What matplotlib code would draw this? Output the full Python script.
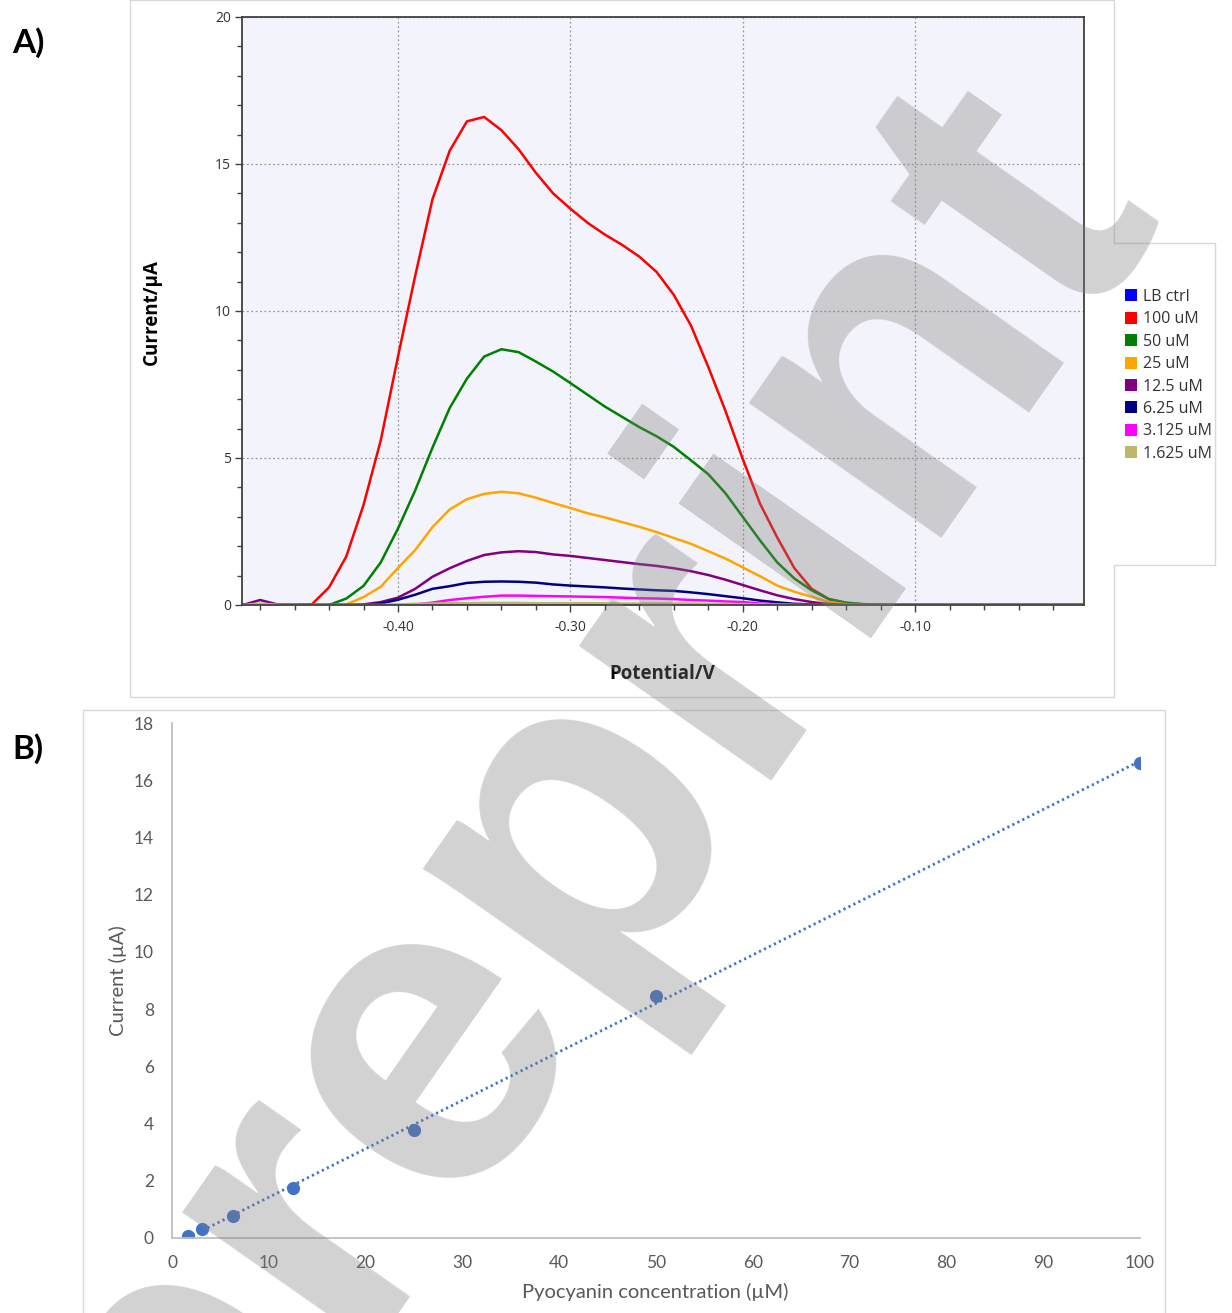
import numpy as np
import matplotlib
matplotlib.use('Agg')
import matplotlib.pyplot as plt
from matplotlib.lines import Line2D
from matplotlib.ticker import MultipleLocator, FormatStrFormatter

W, H = 1232, 1313

# ---- panel A: voltammograms ----
potential = [-0.49, -0.48, -0.47, -0.46, -0.45, -0.44, -0.43, -0.42, -0.41, -0.40,
             -0.39, -0.38, -0.37, -0.36, -0.35, -0.34, -0.33, -0.32, -0.31, -0.30,
             -0.29, -0.28, -0.27, -0.26, -0.25, -0.24, -0.23, -0.22, -0.21, -0.20,
             -0.19, -0.18, -0.17, -0.16, -0.15, -0.14, -0.13, -0.12, -0.11, -0.10,
             -0.09, -0.08, -0.07, -0.06, -0.05, -0.04, -0.03, -0.02, -0.01, 0.00]

lb_ctrl = [0, 0, 0, 0, 0, 0, 0, 0, 0, 0,
           0, 0, 0, 0, 0, 0, 0, 0, 0, 0,
           0, 0, 0, 0, 0, 0, 0, 0, 0, 0,
           0, 0, 0, 0, 0, 0, 0, 0, 0, 0,
           0, 0, 0, 0, 0, 0, 0, 0, 0, 0]
c100 = [0, 0, 0, 0, 0.02, 0.6, 1.65, 3.4, 5.6, 8.45,
        11.2, 13.8, 15.45, 16.45, 16.6, 16.15, 15.5, 14.7, 14.0, 13.48,
        13.0, 12.6, 12.25, 11.85, 11.33, 10.55, 9.5, 8.1, 6.6, 4.97,
        3.45, 2.3, 1.25, 0.55, 0.2, 0.07, 0.02, 0, 0, 0,
        0, 0, 0, 0, 0, 0, 0, 0, 0, 0]
c50 = [0, 0, 0, 0, 0, 0, 0.22, 0.65, 1.45, 2.6,
       3.9, 5.35, 6.7, 7.7, 8.45, 8.7, 8.6, 8.28, 7.94, 7.55,
       7.15, 6.75, 6.4, 6.05, 5.74, 5.38, 4.92, 4.45, 3.8, 3.0,
       2.2, 1.45, 0.9, 0.5, 0.2, 0.08, 0.03, 0.01, 0, 0,
       0, 0, 0, 0, 0, 0, 0, 0, 0, 0]
c25 = [0, 0, 0, 0, 0, 0, 0.02, 0.27, 0.62, 1.26,
       1.87, 2.65, 3.25, 3.6, 3.78, 3.85, 3.8, 3.65, 3.47, 3.3,
       3.12, 2.98, 2.82, 2.66, 2.48, 2.28, 2.08, 1.83, 1.58, 1.28,
       0.98, 0.66, 0.45, 0.28, 0.1, 0.03, 0, 0, 0, 0,
       0, 0, 0, 0, 0, 0, 0, 0, 0, 0]
c12 = [0, 0.17, 0.02, 0, 0, 0, 0, 0.02, 0.1, 0.25,
       0.55, 0.96, 1.25, 1.5, 1.7, 1.79, 1.83, 1.8, 1.72, 1.67,
       1.6, 1.53, 1.46, 1.39, 1.33, 1.25, 1.15, 1.02, 0.86, 0.68,
       0.5, 0.33, 0.2, 0.1, 0.03, 0, 0, 0, 0, 0,
       0, 0, 0, 0, 0, 0, 0, 0, 0, 0]
c6 = [0, 0, 0, 0, 0, 0, 0, 0, 0.05, 0.18,
      0.35, 0.55, 0.64, 0.75, 0.79, 0.8, 0.79, 0.76, 0.7, 0.66,
      0.63, 0.6, 0.56, 0.53, 0.5, 0.48, 0.43, 0.37, 0.3, 0.23,
      0.15, 0.09, 0.04, 0.02, 0, 0, 0, 0, 0, 0,
      0, 0, 0, 0, 0, 0, 0, 0, 0, 0]
c3 = [0, 0, 0, 0, 0, 0, 0, 0, 0, 0,
      0.02, 0.08, 0.17, 0.23, 0.28, 0.32, 0.32, 0.31, 0.3, 0.29,
      0.28, 0.27, 0.25, 0.23, 0.22, 0.2, 0.17, 0.15, 0.12, 0.1,
      0.05, 0.03, 0.01, 0, 0, 0, 0, 0, 0, 0,
      0, 0, 0, 0, 0, 0, 0, 0, 0, 0]
c1 = [0, 0.05, 0.01, 0, 0, 0, 0, 0, 0, 0.02,
      0.04, 0.05, 0.06, 0.06, 0.07, 0.07, 0.07, 0.06, 0.06, 0.06,
      0.06, 0.06, 0.05, 0.05, 0.05, 0.05, 0.05, 0.04, 0.04, 0.03,
      0.02, 0.01, 0, 0, 0, 0, 0, 0, 0, 0,
      0, 0, 0, 0, 0, 0, 0, 0, 0, 0]

series_a = [lb_ctrl, c100, c50, c25, c12, c6, c3, c1]
labels_a = ['LB ctrl', '100 uM', '50 uM', '25 uM', '12.5 uM', '6.25 uM', '3.125 uM', '1.625 uM']
colors_a = ['#0000ff', '#ff0000', '#008000', '#ffa500', '#800080', '#000080', '#ff00ff', '#bdb76b']

# ---- panel B: calibration ----
conc = [1.625, 3.125, 6.25, 12.5, 25, 50, 100]
peak_current = [0.08, 0.31, 0.77, 1.75, 3.77, 8.46, 16.6]


def px(x0, y0, x1, y1):
    # pixel box (from top-left) -> figure fraction rect
    return [x0 / W, 1 - y1 / H, (x1 - x0) / W, (y1 - y0) / H]


fig = plt.figure(figsize=(W / 100, H / 100), dpi=100)
fig.patch.set_facecolor('white')

# ---------- A ----------
axA = fig.add_axes(px(242, 17, 1084, 605))
axA.set_facecolor('#f3f3fb')
for y, lab, col in zip(series_a, labels_a, colors_a):
    axA.plot(potential, y, color=col, lw=1.8, label=lab)

axA.set_xlim(-0.4905, -0.002)
axA.set_ylim(0, 20)
axA.xaxis.set_major_locator(MultipleLocator(0.1))
axA.xaxis.set_minor_locator(MultipleLocator(0.02))
axA.xaxis.set_major_formatter(FormatStrFormatter('%.2f'))
axA.yaxis.set_major_locator(MultipleLocator(5))
axA.yaxis.set_minor_locator(MultipleLocator(1))
axA.grid(True, which='major', color='#999999', ls=(0, (1.5, 2)), lw=0.9)
for s in axA.spines.values():
    s.set_color('#404040')
    s.set_linewidth(1.3)
axA.tick_params(which='major', direction='out', length=5, width=1, color='#404040',
                labelsize=10, labelcolor='#333333', pad=3)
axA.tick_params(which='minor', direction='out', length=3.5, width=1, color='#404040')
axA.tick_params(axis='x', which='major', pad=6)
for t in axA.get_xticklabels() + axA.get_yticklabels():
    t.set_fontfamily('Open Sans')

axA.set_xlabel('Potential/V', fontsize=13.5, fontweight='bold', family='Open Sans')
axA.set_ylabel('Current/µA', fontsize=13.5, fontweight='bold', family='Open Sans')
axA.xaxis.set_label_coords(0.499, -0.1)
axA.yaxis.set_label_coords(-0.095, 0.498)

handles = [Line2D([], [], ls='none', marker='s', ms=9, color=c, markeredgewidth=0)
           for c in colors_a]
fig.legend(handles, labels_a, loc='upper left', bbox_to_anchor=(1125 / W, 1 - 289 / H),
           frameon=False, handlelength=0.7, handletextpad=0.45,
           labelspacing=0.4, borderpad=0, borderaxespad=0,
           prop={'family': 'Open Sans', 'size': 11.5}, labelcolor='#333333')

# panel frames
frame_col = '#d9d9d9'
ax_x = [130, 130, 1114, 1114, 1215, 1215, 1114, 1114, 130]
ax_y = [0, 697, 697, 565, 565, 243, 243, 0, 0]
fig.add_artist(Line2D([v / W for v in ax_x], [1 - v / H for v in ax_y],
                      transform=fig.transFigure, color=frame_col, lw=1))
bx_x = [83, 83, 1165, 1165]
bx_y = [1313, 710, 710, 1313]
fig.add_artist(Line2D([v / W for v in bx_x], [1 - v / H for v in bx_y],
                      transform=fig.transFigure, color=frame_col, lw=1))

# ---------- B ----------
axB = fig.add_axes(px(172, 723, 1140, 1238))
slope, icpt = np.polyfit(conc, peak_current, 1)
xfit = np.array([min(conc), max(conc)])
axB.plot(xfit, slope * xfit + icpt, color='#4472c4', lw=2, ls=(0, (0.8, 1.2)))
axB.plot(conc, peak_current, 'o', color='#4472c4', ms=9.5, markeredgewidth=0)
axB.set_xlim(0, 100)
axB.set_ylim(0, 18)
axB.set_xticks(range(0, 101, 10))
axB.set_yticks(range(0, 19, 2))
for side in ['top', 'right']:
    axB.spines[side].set_visible(False)
for side in ['left', 'bottom']:
    axB.spines[side].set_color('#bfbfbf')
    axB.spines[side].set_linewidth(1.3)
axB.tick_params(length=0, labelsize=12.5, labelcolor='#595959')
axB.tick_params(axis='y', pad=13)
axB.tick_params(axis='x', pad=12)
for t in axB.get_xticklabels() + axB.get_yticklabels():
    t.set_fontfamily('Lato')
axB.set_xlabel('Pyocyanin concentration (µM)', fontsize=14.5, color='#595959', family='Lato')
axB.set_ylabel('Current (µA)', fontsize=14.5, color='#595959', family='Lato')
axB.xaxis.set_label_coords(0.499, -0.088)
axB.yaxis.set_label_coords(-0.047, 0.5)

# panel tags
fig.text(12 / W, 1 - 43 / H, 'A)', fontsize=24, fontweight='bold', family='Lato', va='center')
fig.text(12 / W, 1 - 749 / H, 'B)', fontsize=24, fontweight='bold', family='Lato', va='center')

# watermark
fig.text(672 / W, 1 - 882 / H, 'preprint', fontsize=320, fontweight='bold',
         family='Liberation Sans', color='#7f7f7f', alpha=0.35, rotation=55,
         rotation_mode='anchor', ha='center', va='baseline')

fig.savefig('out.png', dpi=100)
